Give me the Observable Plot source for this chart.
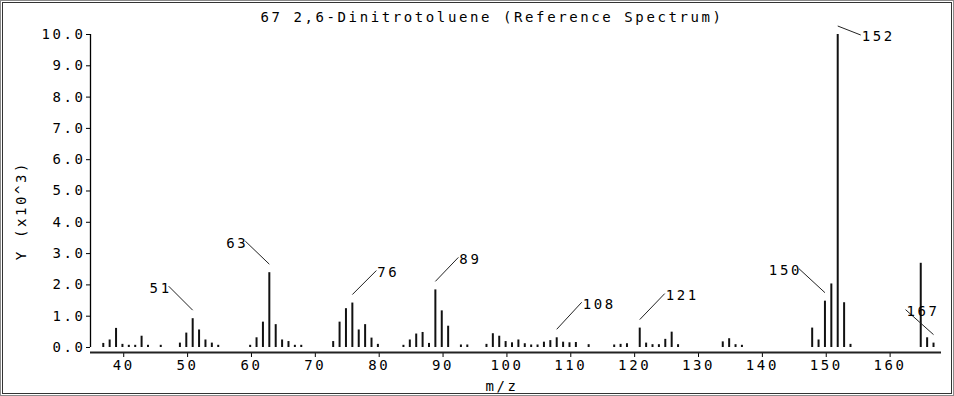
<!DOCTYPE html>
<html>
<head>
<meta charset="utf-8">
<script src="https://cdn.jsdelivr.net/npm/d3@7"></script>
<script src="https://cdn.jsdelivr.net/npm/@observablehq/plot@0.6"></script>
<style>
  html, body { margin: 0; padding: 0; background: #fff; }
  #wrap { position: relative; width: 954px; height: 396px; overflow: hidden; }
  #wrap svg { position: absolute; left: 0; top: 0; }
  .frame-outer { position: absolute; left: 0; top: 0; right: 0; bottom: 0; border: 1px solid #8a8a8a; pointer-events: none; }
  .frame-inner { position: absolute; left: 2px; top: 2px; right: 2px; bottom: 2px; border: 1px solid #333; pointer-events: none; }
</style>
</head>
<body>
<div id="wrap"></div>
<script>
// ---- data (m/z, intensity in units of 10^3) ----
const title = "67 2,6-Dinitrotoluene (Reference Spectrum)";
const xLabel = "m/z";
const yLabel = "Y (x10^3)";

const mz = [37,38,39,40,41,42,43,44,46,
            49,50,51,52,53,54,55,
            60,61,62,63,64,65,66,67,68,
            73,74,75,76,77,78,79,80,
            84,85,86,87,88,89,90,91,93,94,
            97,98,99,100,101,102,103,104,105,106,107,108,109,110,111,113,
            117,118,119,121,122,123,124,125,126,127,
            134,135,136,137,
            148,149,150,151,152,153,154,
            165,166,167];
const intensity = [0.13,0.24,0.61,0.10,0.07,0.07,0.36,0.07,0.07,
                   0.14,0.46,0.92,0.56,0.24,0.14,0.07,
                   0.07,0.31,0.81,2.39,0.73,0.24,0.19,0.07,0.07,
                   0.19,0.81,1.24,1.42,0.56,0.73,0.30,0.10,
                   0.07,0.24,0.43,0.48,0.13,1.84,1.17,0.68,0.08,0.08,
                   0.10,0.44,0.36,0.19,0.15,0.24,0.12,0.08,0.08,0.17,0.22,0.31,0.17,0.15,0.16,0.09,
                   0.08,0.10,0.12,0.62,0.14,0.09,0.09,0.26,0.49,0.09,
                   0.18,0.28,0.09,0.07,
                   0.62,0.24,1.48,2.03,10.0,1.43,0.10,
                   2.69,0.31,0.14];

const xTicks = [40,50,60,70,80,90,100,110,120,130,140,150,160];
const yTicks = [0,1,2,3,4,5,6,7,8,9,10];

const labelMz = [51,63,76,89,108,121,150,152,167];

// ---- layout (pixel offsets of leader lines, not data) ----
const leaderDx = [-24,-24,24,23,25,25,-26,23,-28];
const leaderDy = [-24,-23,-24,-24,-27,-26,-24,9,-25];
const labelAnchor = ["end","end","start","start","start","start","end","start","start"];

const W = 954, H = 396, ML = 90, MR = 13, MT = 34, MB = 44;
const xDomain = [35, 168.25];
const yDomain = [-0.16, 10];
const kx = (W - ML - MR) / (xDomain[1] - xDomain[0]);
const ky = (H - MT - MB) / (yDomain[1] - yDomain[0]);
const gap = 8.5;

const bars = mz.map((m, i) => ({mz: m, v: intensity[i]}));
const vOf = new Map(bars.map(d => [d.mz, d.v]));
const labels = labelMz.map((m, i) => {
  const y1 = vOf.get(m) + gap / ky;
  return {
    mz: m, text: String(m), anchor: labelAnchor[i],
    x1: m, y1,
    x2: m + leaderDx[i] / kx,
    y2: y1 - leaderDy[i] / ky
  };
});

const font = "'DejaVu Sans Mono', 'Liberation Mono', monospace";

const chart = Plot.plot({
  width: W, height: H,
  marginLeft: ML, marginRight: MR, marginTop: MT, marginBottom: MB,
  style: {fontFamily: font, fontSize: "14px", letterSpacing: "2.6px", background: "transparent", color: "#000"},
  x: {domain: xDomain, ticks: xTicks, tickFormat: d => String(d), label: null},
  y: {domain: yDomain, ticks: yTicks, tickFormat: d3.format(".1f"), label: null},
  marks: [
    Plot.axisY({ticks: yTicks, tickFormat: d3.format(".1f"), tickSize: 4, tickPadding: 1, label: null, stroke: "#000", fill: "#000"}),
    Plot.axisX({ticks: xTicks, tickSize: 5, tickPadding: 3, label: null, dx: 1.3, stroke: "#000", fill: "#000"}),
    Plot.ruleX([xDomain[0]], {y1: 0, y2: 10, stroke: "#000", strokeWidth: 1.3}),
    Plot.ruleY([yDomain[0]], {stroke: "#222", strokeWidth: 2}),
    Plot.ruleX(bars, {x: "mz", y1: 0, y2: "v", stroke: "#111", strokeWidth: 2}),
    Plot.link(labels, {x1: "x1", y1: "y1", x2: "x2", y2: "y2", stroke: "#222", strokeWidth: 1}),
    Plot.text(labels.filter(d => d.anchor === "end"), {x: "x2", y: "y2", text: "text", textAnchor: "end", lineAnchor: "middle", dx: 3, dy: 2, fill: "#000"}),
    Plot.text(labels.filter(d => d.anchor === "start"), {x: "x2", y: "y2", text: "text", textAnchor: "start", lineAnchor: "middle", dx: 1, dy: 2, fill: "#000"}),
    Plot.text([title], {frameAnchor: "top", textAnchor: "middle", dx: -24, dy: -17, lineAnchor: "middle", fill: "#000"}),
    Plot.text([yLabel], {frameAnchor: "left", textAnchor: "middle", rotate: -90, dx: -69, dy: 17, lineAnchor: "middle", fill: "#000"}),
    Plot.text([xLabel], {frameAnchor: "bottom", textAnchor: "middle", dx: -14, dy: 34, lineAnchor: "middle", fill: "#000"})
  ]
});

const wrap = document.getElementById("wrap");
wrap.appendChild(chart);
const o = document.createElement("div"); o.className = "frame-outer"; wrap.appendChild(o);
const inn = document.createElement("div"); inn.className = "frame-inner"; wrap.appendChild(inn);
</script>
</body>
</html>
